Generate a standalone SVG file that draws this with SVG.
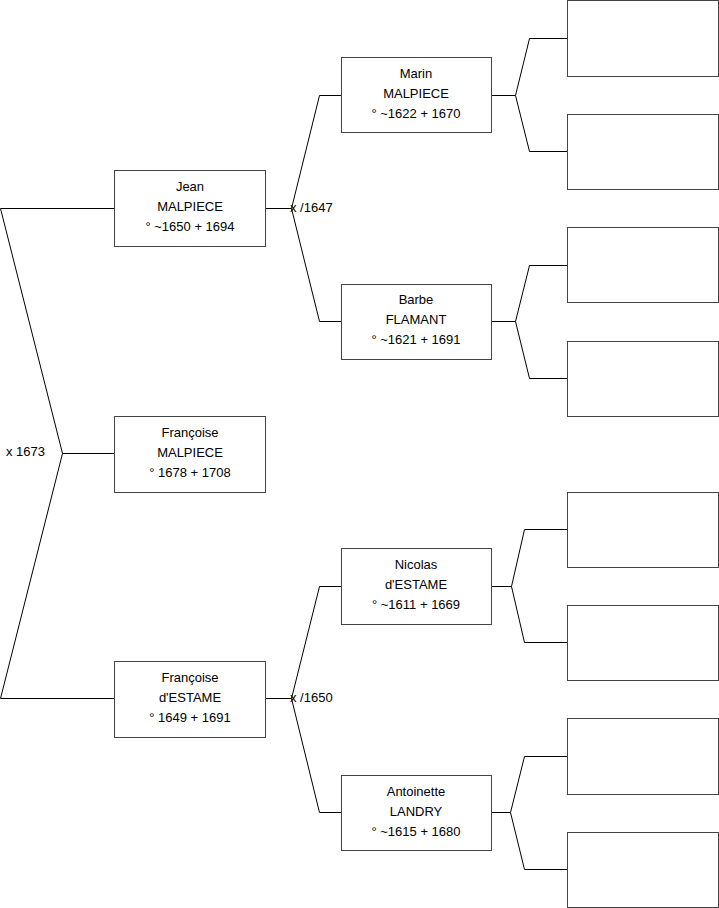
<svg xmlns="http://www.w3.org/2000/svg" width="719" height="908" viewBox="0 0 719 908">
<style>
.box{fill:#fff;stroke:#444;stroke-width:1}
.ln{fill:none;stroke:#000;stroke-width:1}
text{font-family:"Liberation Sans",Arial,sans-serif;font-size:13px;fill:#000}
.c{text-anchor:middle}
</style>
<rect width="719" height="908" fill="#fff"/>
<g id="connectors">
<polyline class="ln" points="114,208.5 0.5,208.5 62.5,453.5 0.5,698.5 114,698.5"/>
<line class="ln" x1="62.5" y1="453.5" x2="114" y2="453.5"/>
<polyline class="ln" points="265,208.5 291.5,208.5"/>
<polyline class="ln" points="341,95.5 319.5,95.5 291.5,208.5 319.5,321.5 341,321.5"/>
<polyline class="ln" points="265,698.5 291.5,698.5"/>
<polyline class="ln" points="341,586.5 319.5,586.5 291.5,698.5 319.5,812.5 341,812.5"/>
<polyline class="ln" points="491,95.5 515.5,95.5"/>
<polyline class="ln" points="567,38.5 529.5,38.5 515.5,95.5 529.5,151.5 567,151.5"/>
<polyline class="ln" points="491,321.5 515.5,321.5"/>
<polyline class="ln" points="567,265.5 529.5,265.5 515.5,321.5 529.5,378.5 567,378.5"/>
<polyline class="ln" points="491,586.5 511.5,586.5"/>
<polyline class="ln" points="567,529.5 524.5,529.5 511.5,586.5 524.5,642.5 567,642.5"/>
<polyline class="ln" points="491,812.5 510.5,812.5"/>
<polyline class="ln" points="567,756.5 524.5,756.5 510.5,812.5 524.5,869.5 567,869.5"/>
<text x="6" y="456">x 1673</text>
<text x="290" y="212">x /1647</text>
<text x="290" y="702">x /1650</text>
</g>
<g id="jean">
<rect class="box" x="114.5" y="170.5" width="151" height="76"/>
<text class="c" x="190" y="191">Jean</text>
<text class="c" x="190" y="211">MALPIECE</text>
<text class="c" x="190" y="231">° ~1650 + 1694</text>
</g>
<g id="francoise-malpiece">
<rect class="box" x="114.5" y="416.5" width="151" height="76"/>
<text class="c" x="190" y="437">Françoise</text>
<text class="c" x="190" y="457">MALPIECE</text>
<text class="c" x="190" y="477">° 1678 + 1708</text>
</g>
<g id="francoise-destame">
<rect class="box" x="114.5" y="661.5" width="151" height="76"/>
<text class="c" x="190" y="682">Françoise</text>
<text class="c" x="190" y="702">d'ESTAME</text>
<text class="c" x="190" y="722">° 1649 + 1691</text>
</g>
<g id="marin">
<rect class="box" x="341.5" y="57.5" width="150" height="75"/>
<text class="c" x="416" y="78">Marin</text>
<text class="c" x="416" y="98">MALPIECE</text>
<text class="c" x="416" y="118">° ~1622 + 1670</text>
</g>
<g id="barbe">
<rect class="box" x="341.5" y="284.5" width="150" height="75"/>
<text class="c" x="416" y="304">Barbe</text>
<text class="c" x="416" y="324">FLAMANT</text>
<text class="c" x="416" y="344">° ~1621 + 1691</text>
</g>
<g id="nicolas">
<rect class="box" x="341.5" y="548.5" width="150" height="76"/>
<text class="c" x="416" y="569">Nicolas</text>
<text class="c" x="416" y="589">d'ESTAME</text>
<text class="c" x="416" y="609">° ~1611 + 1669</text>
</g>
<g id="antoinette">
<rect class="box" x="341.5" y="775.5" width="150" height="75"/>
<text class="c" x="416" y="796">Antoinette</text>
<text class="c" x="416" y="816">LANDRY</text>
<text class="c" x="416" y="836">° ~1615 + 1680</text>
</g>
<g id="p1"><rect class="box" x="567.5" y="0.5" width="151" height="76"/></g>
<g id="p2"><rect class="box" x="567.5" y="114.5" width="151" height="75"/></g>
<g id="p3"><rect class="box" x="567.5" y="227.5" width="151" height="75"/></g>
<g id="p4"><rect class="box" x="567.5" y="341.5" width="151" height="75"/></g>
<g id="p5"><rect class="box" x="567.5" y="492.5" width="151" height="75"/></g>
<g id="p6"><rect class="box" x="567.5" y="605.5" width="151" height="75"/></g>
<g id="p7"><rect class="box" x="567.5" y="718.5" width="151" height="76"/></g>
<g id="p8"><rect class="box" x="567.5" y="832.5" width="151" height="75"/></g>
</svg>
